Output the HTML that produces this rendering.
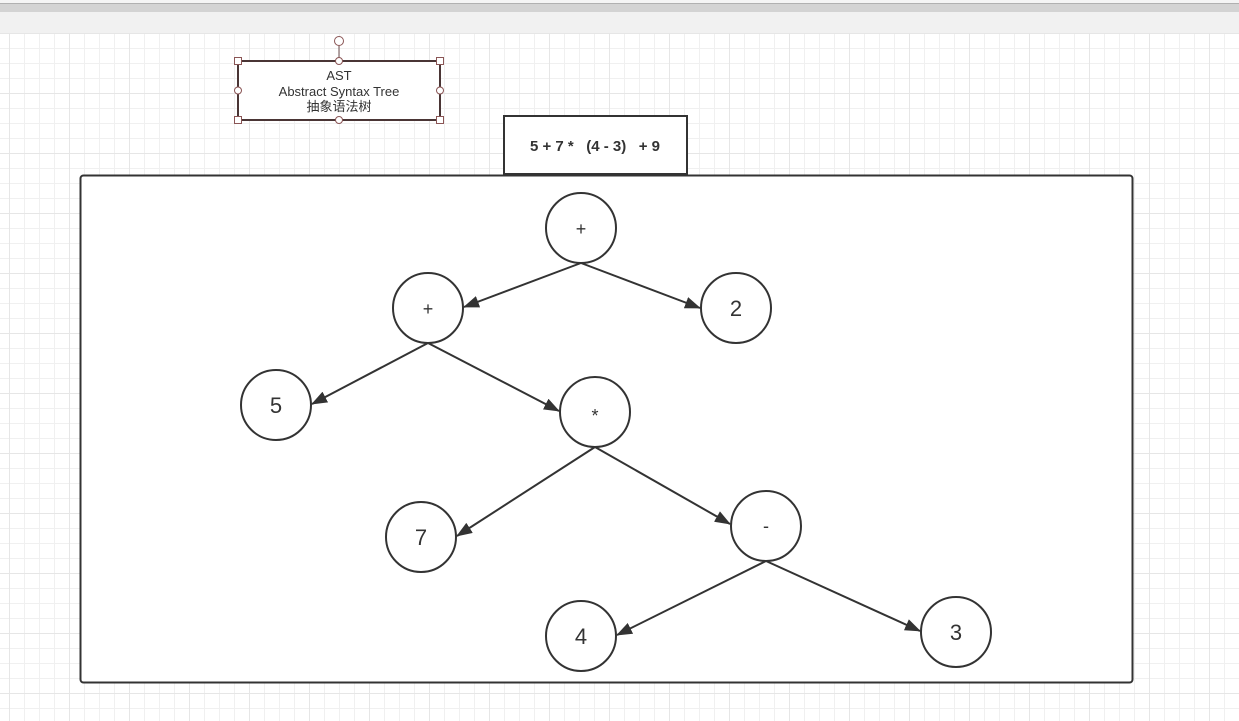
<!DOCTYPE html>
<html><head><meta charset="utf-8"><style>
html,body{margin:0;padding:0;}
body{width:1239px;height:721px;position:relative;overflow:hidden;background:#fff;font-family:"Liberation Sans","Noto Sans CJK SC",sans-serif;}
.top1{position:absolute;left:0;top:0;width:1239px;height:3px;background:#f4f4f4;}
.top2{position:absolute;left:0;top:3px;width:1239px;height:9px;background:#d3d3d3;border-top:1px solid #b0b0b0;box-sizing:border-box;}
.top3{position:absolute;left:0;top:12px;width:1239px;height:21px;background:#f1f1f1;}
.grid{position:absolute;left:0;top:33px;width:1239px;height:688px;
background-image:linear-gradient(to right,#e6e6e6 1px,transparent 1px),linear-gradient(to bottom,#e6e6e6 1px,transparent 1px),linear-gradient(to right,#f0f0f0 1px,transparent 1px),linear-gradient(to bottom,#f0f0f0 1px,transparent 1px);
background-size:60px 60px,60px 60px,15px 15px,15px 15px;background-position:9px 0,0 0,9px 0,0 0;}
</style></head><body>
<div class="top1"></div><div class="top2"></div><div class="top3"></div>
<div class="grid"></div>
<svg width="1239" height="721" style="position:absolute;left:0;top:0">
<defs><marker id="a" markerWidth="16" markerHeight="12" refX="15" refY="6" orient="auto" markerUnits="userSpaceOnUse"><path d="M0,0 L16,6 L0,12 Z" fill="#333"/></marker></defs>
<rect x="80.5" y="175.5" width="1052" height="507" rx="3" fill="#fff" stroke="#333" stroke-width="2"/>
<rect x="504" y="116" width="183" height="58" fill="#fff" stroke="#333" stroke-width="2"/>
<text x="595" y="151" text-anchor="middle" font-size="15" font-weight="bold" fill="#333" style="white-space:pre" xml:space="preserve">5 + 7 *   (4 - 3)   + 9</text>
<rect x="238" y="61" width="202" height="59" fill="#fff" stroke="#4a3535" stroke-width="2"/>
<line x1="339" y1="46" x2="339" y2="61" stroke="#6b4b4b"/>
<circle cx="339" cy="41" r="4.5" fill="#fff" stroke="#8a5555"/>
<g fill="#fff" stroke="#8a5555"><rect x="234.5" y="57.5" width="7" height="7"/><rect x="436.5" y="57.5" width="7" height="7"/><rect x="234.5" y="116.5" width="7" height="7"/><rect x="436.5" y="116.5" width="7" height="7"/>
<circle cx="339" cy="61" r="3.5"/><circle cx="339" cy="120" r="3.5"/><circle cx="238" cy="90.5" r="3.5"/><circle cx="440" cy="90.5" r="3.5"/></g>
<g font-size="13" fill="#333" text-anchor="middle"><text x="339" y="80">AST</text><text x="339" y="96">Abstract Syntax Tree</text><text x="339" y="111" font-family="'Noto Sans CJK SC',sans-serif">抽象语法树</text></g>
<g stroke="#333" stroke-width="2" marker-end="url(#a)">
<line x1="581" y1="263" x2="464" y2="307"/>
<line x1="581" y1="263" x2="700" y2="308"/>
<line x1="428" y1="343" x2="312" y2="404"/>
<line x1="428" y1="343" x2="559" y2="411"/>
<line x1="595" y1="447" x2="457" y2="536"/>
<line x1="595" y1="447" x2="730" y2="524"/>
<line x1="766" y1="561" x2="617" y2="635"/>
<line x1="766" y1="561" x2="920" y2="631"/>
</g>
<g fill="#fff" stroke="#333" stroke-width="2">
<circle cx="581" cy="228" r="35"/><circle cx="428" cy="308" r="35"/><circle cx="736" cy="308" r="35"/>
<circle cx="276" cy="405" r="35"/><circle cx="595" cy="412" r="35"/><circle cx="421" cy="537" r="35"/>
<circle cx="766" cy="526" r="35"/><circle cx="581" cy="636" r="35"/><circle cx="956" cy="632" r="35"/>
</g>
<g fill="#333" text-anchor="middle" font-family="'Liberation Sans',sans-serif">
<text x="581" y="235" font-size="18">+</text><text x="428" y="315" font-size="18">+</text>
<text x="736" y="316" font-size="22">2</text><text x="276" y="413" font-size="22">5</text>
<text x="595" y="422" font-size="18">*</text><text x="421" y="545" font-size="22">7</text>
<text x="766" y="532" font-size="18">-</text><text x="581" y="644" font-size="22">4</text>
<text x="956" y="640" font-size="22">3</text>
</g>
</svg>
</body></html>
